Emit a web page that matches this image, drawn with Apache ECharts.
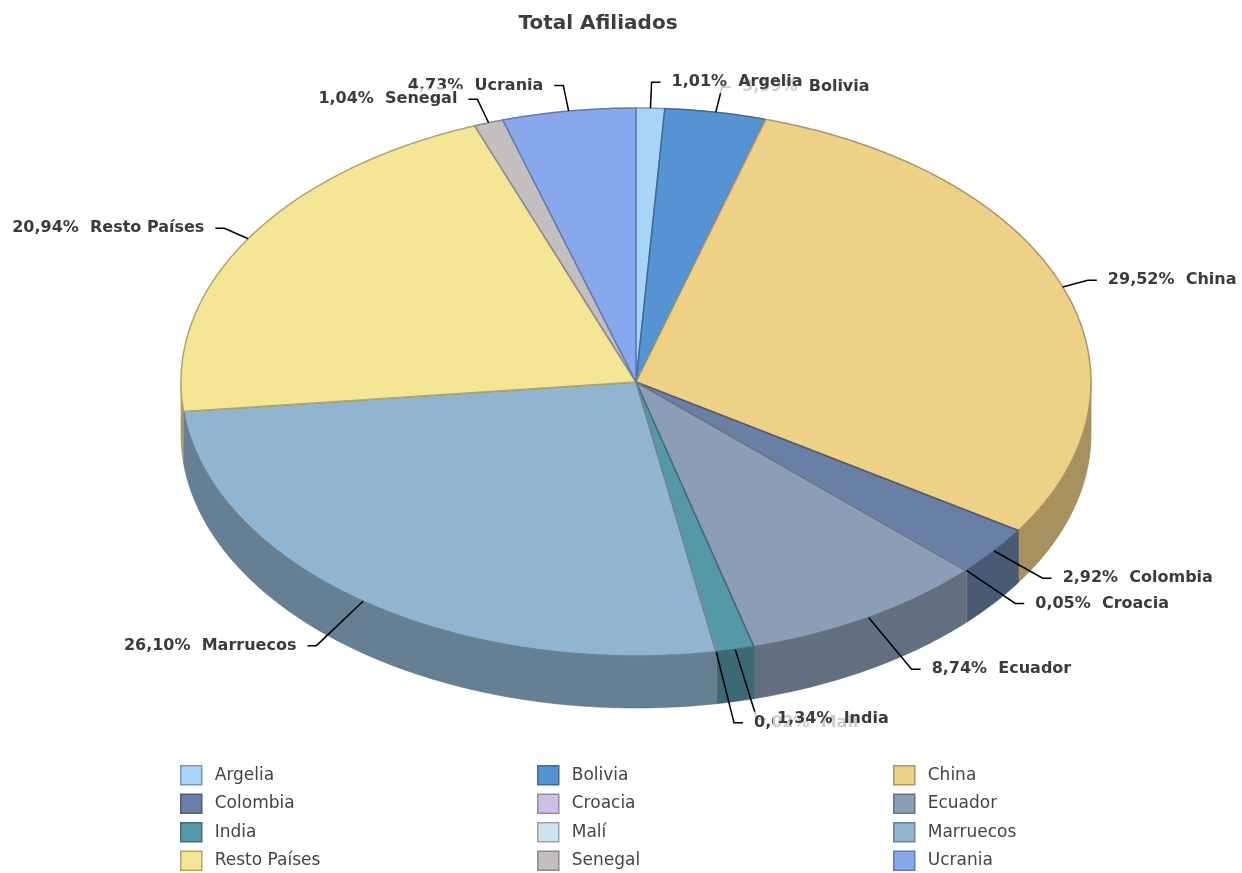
<!DOCTYPE html>
<html>
<head>
<meta charset="utf-8">
<script src="https://cdn.jsdelivr.net/npm/echarts@6/dist/echarts.min.js"></script>
<style>
html,body{margin:0;padding:0;background:#fff;}
#chart{width:1242px;height:873px;}
</style>
</head>
<body>
<div id="chart"></div>
<script>
// ---- data ----
const categories = ['Argelia','Bolivia','China','Colombia','Croacia','Ecuador','India','Malí','Marruecos','Resto Países','Senegal','Ucrania'];
const shares = [1.01, 3.59, 29.52, 2.92, 0.05, 8.74, 1.34, 0.02, 26.10, 20.94, 1.04, 4.73];
const titleText = 'Total Afiliados';

// ---- style ----
const topColors = ['#a6d5f7','#5593d2','#efd087','#6a7fa6','#cdbfe6','#8c9eb6','#5598a8','#cfe3ea','#91b5d1','#f5e695','#c4bfbf','#88a8ee'];
const FONT = '"DejaVu Sans", sans-serif';

function shade(hex, f){
  const n = parseInt(hex.slice(1),16);
  const r = Math.round(((n>>16)&255)*f), g = Math.round(((n>>8)&255)*f), b = Math.round((n&255)*f);
  return 'rgb('+r+','+g+','+b+')';
}

// ---- geometry of the tilted pie ----
const CX = 636, CY = 382, RX = 455, RY = 274, DEPTH = 52;
const total = shares.reduce((a,b)=>a+b,0);
const starts = [];
(function(){ let acc = 0; shares.forEach(v=>{ starts.push(acc); acc += v; }); })();

function pt(t, dy){ return [CX + RX*Math.sin(t), CY - RY*Math.cos(t) + (dy||0)]; }
function arc(a1, a2, dy){
  const pts = [];
  const n = Math.max(1, Math.ceil((a2-a1)/(Math.PI/360)));
  for (let k=0;k<=n;k++) pts.push(pt(a1+(a2-a1)*k/n, dy));
  return pts;
}
function fmt(v){ return v.toFixed(2).replace('.', ',') + '%'; }

function makeRender(i){
  return function(params, api){
    const v = api.value(0);
    const a1 = starts[i]/total*2*Math.PI;
    const a2 = (starts[i]+v)/total*2*Math.PI;
    const col = topColors[i];
    const children = [];
    // outer wall (front half only)
    const s1 = Math.max(a1, Math.PI/2), s2 = Math.min(a2, 3*Math.PI/2);
    if (s2 > s1) {
      const top = arc(s1, s2, 0);
      const bot = arc(s1, s2, DEPTH).reverse();
      children.push({type:'polygon', shape:{points: top.concat(bot)},
        style:{fill: shade(col,0.7), stroke: shade(col,0.62), lineWidth:0.6}, z2: 1});
    }
    // top face
    children.push({type:'polygon', shape:{points: [[CX,CY]].concat(arc(a1,a2,0))},
      style:{fill: col, stroke: shade(col,0.72), lineWidth:1.5, lineJoin:'round'}, z2: 10+i});
    // label + leader line
    const mid = (a1+a2)/2, s = Math.sin(mid), c = Math.cos(mid);
    const p0 = pt(mid, 0);
    const dist = 26 + 48*Math.max(0, -c);
    let dx = 1.4*s, dy = -c; const L = Math.sqrt(dx*dx+dy*dy); dx/=L; dy/=L;
    const elbow = [p0[0]+dist*dx, p0[1]+dist*dy];
    const right = s >= 0;
    const end = [elbow[0] + (right?9:-9), elbow[1]];
    children.push({type:'polyline', shape:{points:[p0, elbow, end]},
      style:{stroke:'#000', lineWidth:1.5, fill:null}, z2: 50});
    children.push({type:'text', z2: 100 + (categories.length - i),
      style:{x: end[0] + (right?7:-7), y: end[1], text: fmt(v) + '  ' + categories[i],
        align: right?'left':'right', verticalAlign:'middle',
        font: 'bold 16px ' + FONT, fill:'#3b3b3b',
        backgroundColor:'rgba(255,255,255,0.75)', padding:[3,4]}});
    return {type:'group', children: children};
  };
}

const series = categories.map((name, i) => ({
  type: 'custom',
  name: name,
  coordinateSystem: 'none',
  silent: true,
  data: [shares[i]],
  itemStyle: {color: topColors[i], borderColor: shade(topColors[i],0.72), borderWidth: 1.5},
  renderItem: makeRender(i)
}));

// legend: three columns of four rows, filled row by row
const legendCols = [180, 537, 893];
const legends = legendCols.map((x, col) => ({
  orient: 'vertical',
  left: x, top: 765, padding: 0,
  itemWidth: 21, itemHeight: 19, itemGap: 8,
  selectedMode: false,
  textStyle: {fontFamily: FONT, fontSize: 17, color: '#444', padding:[0,0,0,8]},
  data: categories.map((name,i)=>({name, i})).filter(o => o.i % 3 === col).map(o => ({
    name: o.name, icon: 'rect',
    itemStyle: {color: topColors[o.i], borderColor: shade(topColors[o.i],0.72), borderWidth:1.5}
  }))
}));

const chart = echarts.init(document.getElementById('chart'), null, {renderer:'canvas'});
chart.setOption({
  backgroundColor: '#ffffff',
  animation: false,
  title: {
    text: titleText, left: 593, top: 9, textAlign: 'center',
    textStyle: {fontFamily: FONT, fontSize: 20, fontWeight: 'bold', color: '#3e3e3e'}
  },
  legend: legends,
  series: series
});
</script>
</body>
</html>
